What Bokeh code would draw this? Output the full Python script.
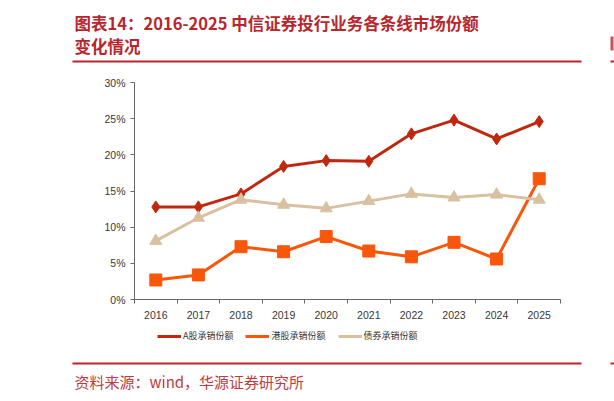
from bokeh.plotting import figure
from bokeh.models import (Range1d, FixedTicker, NumeralTickFormatter, Legend,
                          LegendItem, BoxAnnotation)
from bokeh.core.properties import value
from bokeh.embed import file_html
from bokeh.resources import INLINE

years = ["2016", "2017", "2018", "2019", "2020", "2021", "2022", "2023", "2024", "2025"]
a_share = [12.8, 12.8, 14.6, 18.4, 19.2, 19.1, 22.9, 24.8, 22.2, 24.6]
hk_share = [2.7, 3.4, 7.3, 6.6, 8.7, 6.7, 5.9, 7.9, 5.6, 16.7]
bond = [8.1, 11.3, 13.8, 13.1, 12.6, 13.6, 14.6, 14.1, 14.5, 13.8]
y_ticks = [0, 5, 10, 15, 20, 25, 30]
series_names = ["A股承销份额", "港股承销份额", "债券承销份额"]

title_lines = ["图表14：2016-2025 中信证券投行业务各条线市场份额", "变化情况"]
source_note = "资料来源：wind，华源证券研究所"

RED = "#b8262d"
C_A = "#c1270f"
C_HK = "#f8570b"
C_BOND = "#d9c0a0"

# page layout (pixels): the frame is the whole canvas, the chart sits inside it
W, H = 614, 401
LEFT, TOP = 0, 0
AX_L, AX_R = 134, 560      # x axis extent on the page
AX_BOT, AX_TOP = 299, 82   # 0% and 30% on the page
ux = (AX_R - AX_L) / len(years)
uy = (AX_BOT - AX_TOP) / 0.30


def px(x):
    return (x - AX_L) / ux


def py(y):
    return (AX_BOT - y) / uy


p = figure(width=W, height=H, output_backend="svg", toolbar_location=None,
           x_range=Range1d(px(LEFT), px(LEFT + W)),
           y_range=Range1d(py(TOP + H), py(TOP)), min_border=0)
p.outline_line_color = None
p.grid.grid_line_color = None

xs = [i + 0.5 for i in range(len(years))]

p.xaxis.fixed_location = 0
p.xaxis.bounds = (0, len(years))
p.xaxis.ticker = FixedTicker(ticks=xs, minor_ticks=list(range(len(years) + 1)))
p.xaxis.major_label_overrides = {x: y for x, y in zip(xs, years)}
p.xaxis.major_tick_line_color = None
p.xaxis.minor_tick_in = 0
p.xaxis.minor_tick_out = 4
p.xaxis.minor_tick_line_color = "#666666"

p.yaxis.fixed_location = 0
p.yaxis.bounds = (0, 0.30)
p.yaxis.ticker = FixedTicker(ticks=[t / 100 for t in y_ticks], minor_ticks=[])
p.yaxis.formatter = NumeralTickFormatter(format="0%")
p.yaxis.major_tick_in = 0
p.yaxis.major_tick_out = 4
p.yaxis.major_tick_line_color = "#666666"

for ax in (p.xaxis, p.yaxis):
    ax.axis_line_color = "#666666"
    ax.major_label_text_font = "Liberation Sans"
    ax.major_label_text_font_size = "10.5px"
    ax.major_label_text_color = "#383838"
    ax.major_label_standoff = 5

items = []
for vals, color, marker, name in ((a_share, C_A, "diamond", series_names[0]),
                                  (hk_share, C_HK, "square", series_names[1]),
                                  (bond, C_BOND, "triangle", series_names[2])):
    pct = [v / 100 for v in vals]
    ln = p.line(xs, pct, color=color, line_width=3)
    p.scatter(xs, pct, marker=marker, size=12, color=color)
    # small marker used only for the legend swatch
    key = p.scatter([], [], marker=marker, size=6, color=color)
    items.append(LegendItem(label=name, renderers=[ln, key]))

legend = Legend(items=items, orientation="horizontal",
                location=(157 - LEFT, TOP + H - 342),
                border_line_color=None, background_fill_alpha=0, padding=0,
                margin=0, spacing=12, glyph_width=24, glyph_height=12,
                label_standoff=2, label_text_font="Noto Sans CJK SC",
                label_text_font_size="9px", label_text_color="#333333")
p.add_layout(legend, "center")

# title, rules and source note
p.text(x=[px(74)] * 2, y=[py(22), py(45)], text=title_lines, text_color=RED,
       text_font=value("Noto Sans CJK SC"), text_font_style="bold",
       text_font_size="16.5px", text_baseline="middle")
p.add_layout(BoxAnnotation(left=px(610), right=px(613), top=py(36), bottom=py(50),
                           fill_color=RED, fill_alpha=0.8, line_color=None))
for y in (61, 363):
    for left, right in ((72, 581), (610, 640)):
        p.add_layout(BoxAnnotation(left=px(left), right=px(right),
                                   top=py(y - 1), bottom=py(y + 1),
                                   fill_color=RED, fill_alpha=1, line_color=None))
p.text(x=[px(74)], y=[py(381)], text=[source_note], text_color="#c23a40",
       text_font=value("Noto Sans CJK SC"), text_font_size="15px",
       text_baseline="middle")

open("out.html", "w").write(file_html(p, INLINE))
